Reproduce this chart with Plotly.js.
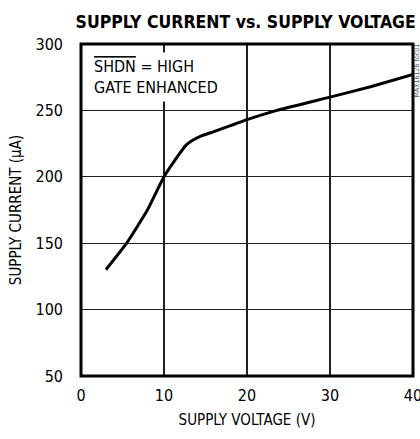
<!DOCTYPE html>
<html>
<head>
<meta charset="utf-8">
<script src="https://cdn.plot.ly/plotly-3.0.1.min.js"></script>
<style>html,body{margin:0;padding:0;background:#fff;}#chart{width:420px;height:439px;}</style>
</head>
<body>
<div id="chart"></div>
<script>
const supplyVoltage = [3, 5.5, 8, 10, 12, 12.6, 13.3, 14.3, 16, 18, 20, 23.6, 30, 35, 40];
const supplyCurrent = [130, 150, 175, 200, 218.5, 223.5, 227, 230.3, 234, 238.5, 243, 250, 260, 268, 277];
const xTicks = [0, 10, 20, 30, 40];
const yTicks = [50, 100, 150, 200, 250, 300];

const FONT = '"DejaVu Sans Condensed", "Liberation Sans Narrow", "Liberation Sans", sans-serif';

const trace = {
  x: supplyVoltage,
  y: supplyCurrent,
  type: 'scatter',
  mode: 'lines',
  line: {color: '#000', width: 3, shape: 'spline', smoothing: 0.4},
  hoverinfo: 'skip'
};

const layout = {
  width: 420, height: 439,
  margin: {l: 81, r: 7, t: 44, b: 63, pad: 0},
  paper_bgcolor: '#fff', plot_bgcolor: '#fff',
  showlegend: false,
  font: {family: FONT, color: '#000', size: 16},
  title: {
    text: '<b>SUPPLY CURRENT vs. SUPPLY VOLTAGE</b>',
    font: {family: FONT, size: 17.5, color: '#000'},
    x: 0.585, xanchor: 'center', y: 0.95, yanchor: 'middle'
  },
  xaxis: {
    range: [0, 40], tickvals: xTicks, ticktext: xTicks.map(String),
    showgrid: true, gridcolor: '#222', gridwidth: 1.3,
    zeroline: false, showline: false, ticks: '', ticklabelstandoff: 8,
    ticklabeloverflow: 'allow',
    tickfont: {family: FONT, size: 16},
    title: {text: 'SUPPLY VOLTAGE (V)', font: {family: FONT, size: 15}, standoff: 10},
    fixedrange: true
  },
  yaxis: {
    range: [50, 300], tickvals: yTicks, ticktext: yTicks.map(String),
    showgrid: true, gridcolor: '#222', gridwidth: 1.3,
    zeroline: false, showline: false, ticks: '', ticklabelstandoff: 17,
    ticklabeloverflow: 'allow',
    tickfont: {family: FONT, size: 16},
    title: {text: 'SUPPLY CURRENT (µA)', font: {family: FONT, size: 15}, standoff: 10},
    fixedrange: true
  },
  shapes: [
    {type: 'rect', xref: 'paper', yref: 'paper', x0: 0, x1: 1, y0: 0, y1: 1,
     line: {color: '#000', width: 3}, fillcolor: 'rgba(0,0,0,0)', layer: 'above'}
  ],
  annotations: [
    {xref: 'paper', yref: 'paper', x: 0.025, y: 0.975, xanchor: 'left', yanchor: 'top',
     align: 'left', showarrow: false, bgcolor: '#fff', borderpad: 4,
     text: '<span style="text-decoration:overline">SHDN</span> = HIGH<br>GATE ENHANCED',
     font: {family: FONT, size: 16, color: '#000'}},
    {xref: 'paper', yref: 'paper', x: 1.012, y: 0.92, xanchor: 'center', yanchor: 'middle',
     textangle: -90, showarrow: false, text: 'MAX16126 toc01',
     font: {family: FONT, size: 7, color: '#555'}}
  ]
};

Plotly.newPlot('chart', [trace], layout, {displayModeBar: false, staticPlot: true});
</script>
</body>
</html>
